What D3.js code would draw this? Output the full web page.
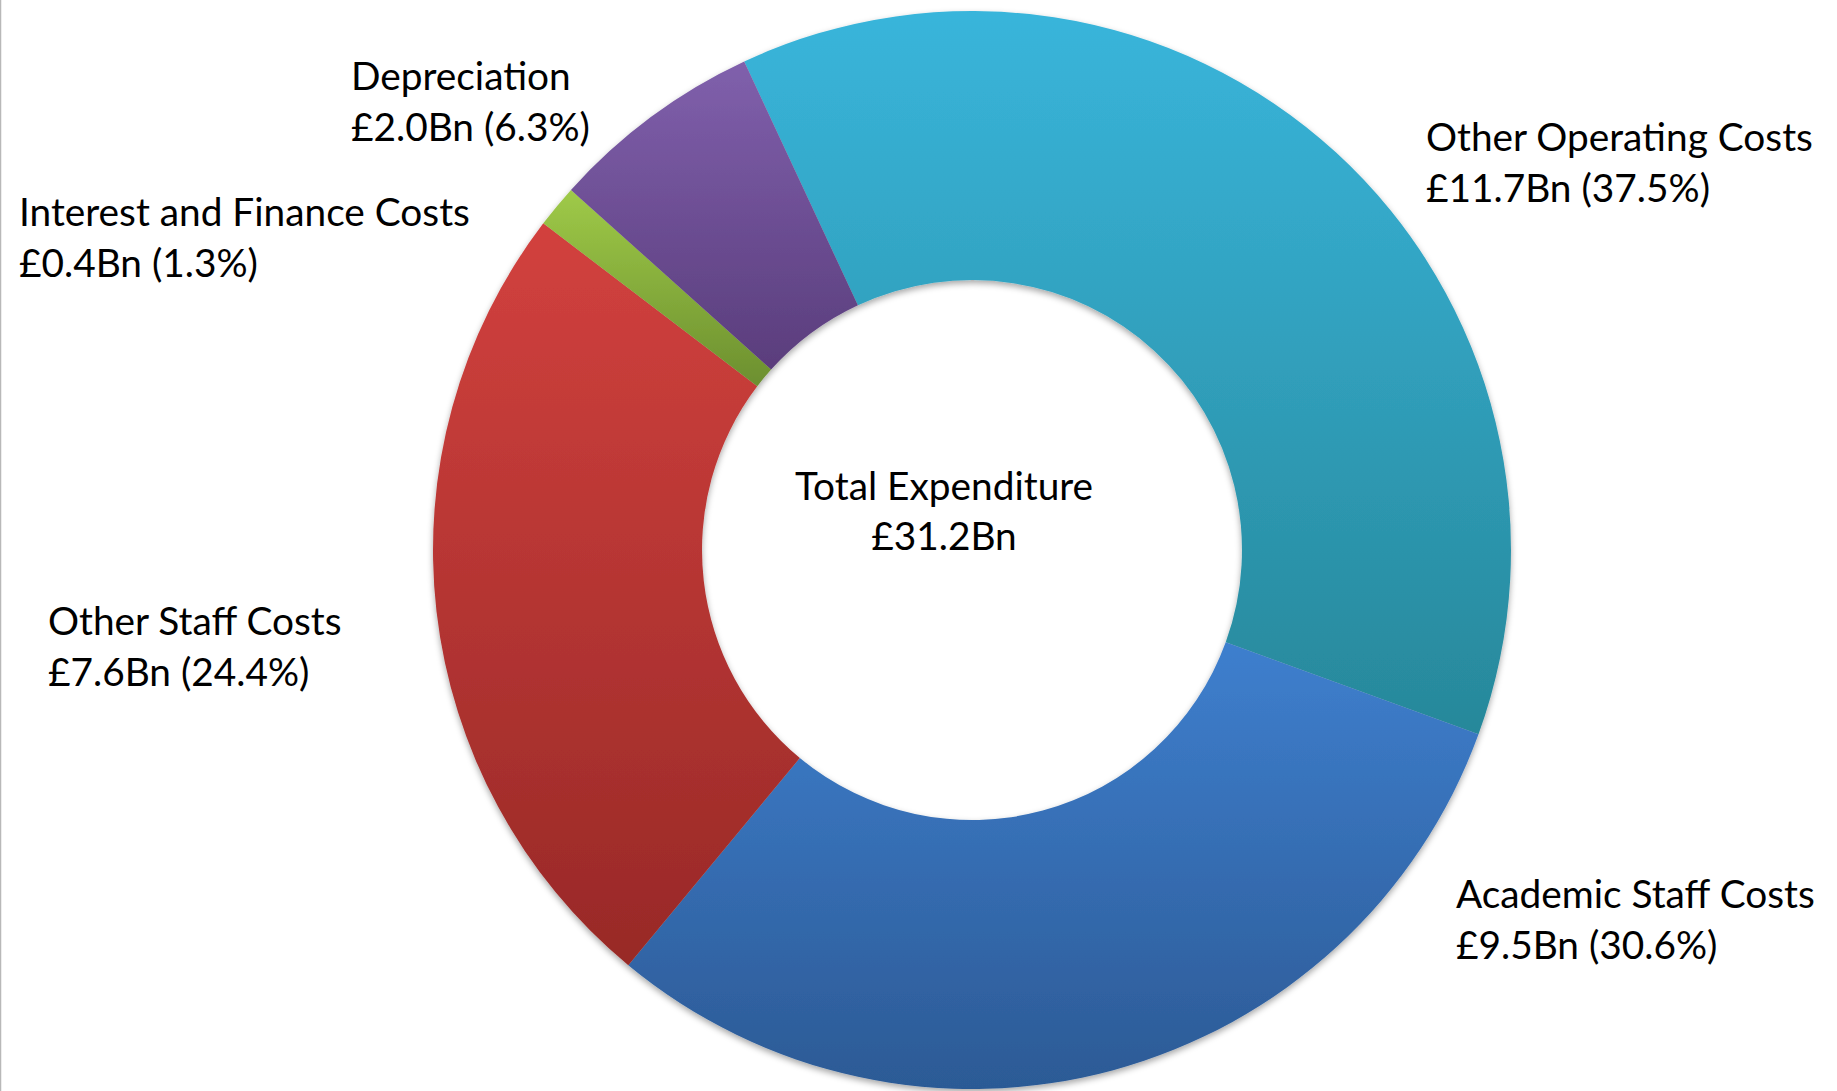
<!DOCTYPE html>
<html>
<head>
<meta charset="utf-8">
<script src="https://cdn.jsdelivr.net/npm/d3@7"></script>
<style>
  html, body { margin: 0; padding: 0; background: #fff; }
  svg { display: block; }
</style>
</head>
<body>
<div id="chart"></div>
<script>
// expenditure breakdown, in pie order (clockwise from the top left)
const categories = ['Other Operating Costs', 'Academic Staff Costs', 'Other Staff Costs',
  'Interest and Finance Costs', 'Depreciation'];
const values = [11.7, 9.5, 7.6, 0.4, 2.0];
const percents = [37.5, 30.6, 24.4, 1.3, 6.3];
const totalLabel = ['Total Expenditure', '£31.2Bn'];

// gradient colours, top -> bottom of each slice
const topColors = ['#39b5db', '#3e7fce', '#d2413e', '#9fca48', '#8060ac'];
const bottomColors = ['#27889a', '#2c5a95', '#982927', '#6c8f2f', '#5a3d7c'];

// label anchor (left edge, first baseline)
const labelPos = [[1426, 151], [1456, 908], [48, 635], [19, 226], [351, 90]];

const W = 1837, H = 1091;
const cx = 972, cy = 550;
const outerR = 539, innerR = 270;
const FONT = 'Lato, "Open Sans", sans-serif';

let svg = d3.select('#chart')
  .append('svg')
  .attr('width', W)
  .attr('height', H);

// fit the font so a label spans the same width as in the picture
let probe = svg.append('text')
  .attr('font-family', FONT)
  .attr('font-size', 100)
  .text('Other Operating Costs');
let fontSize = 100 * 387 / probe.node().getComputedTextLength();
probe.remove();
let lineH = 51;

let defs = svg.append('defs');

let shadow = defs.append('filter')
  .attr('id', 'shadow')
  .attr('x', '-10%').attr('y', '-10%')
  .attr('width', '120%').attr('height', '120%');
shadow.append('feDropShadow')
  .attr('dx', 0)
  .attr('dy', 3)
  .attr('stdDeviation', 3)
  .attr('flood-color', '#000')
  .attr('flood-opacity', 0.35);

categories.forEach(function(c, i) {
  let g = defs.append('linearGradient')
    .attr('id', 'grad' + i)
    .attr('x1', 0).attr('y1', 0)
    .attr('x2', 0).attr('y2', 1);
  g.append('stop').attr('offset', '0%').attr('stop-color', topColors[i]);
  g.append('stop').attr('offset', '100%').attr('stop-color', bottomColors[i]);
});

// left frame line
svg.append('line')
  .attr('x1', 0.5).attr('x2', 0.5)
  .attr('y1', 0).attr('y2', H)
  .attr('stroke', '#b8b8b8')
  .attr('stroke-width', 1.5);

let start = -25 * Math.PI / 180;
let pie = d3.pie()
  .sort(null)
  .value(function(d) { return d; })
  .startAngle(start)
  .endAngle(start + 2 * Math.PI);

let arc = d3.arc()
  .innerRadius(innerR)
  .outerRadius(outerR);

let donut = svg.append('g')
  .attr('transform', 'translate(' + cx + ',' + cy + ')')
  .attr('filter', 'url(#shadow)');

donut.selectAll('path')
  .data(pie(values))
  .enter()
  .append('path')
  .attr('d', arc)
  .attr('fill', function(d, i) { return 'url(#grad' + i + ')'; });

// slice labels
let labels = svg.selectAll('text.label')
  .data(categories)
  .enter()
  .append('text')
  .attr('class', 'label')
  .attr('font-family', FONT)
  .attr('font-size', fontSize)
  .attr('fill', '#000');

labels.append('tspan')
  .attr('x', function(d, i) { return labelPos[i][0]; })
  .attr('y', function(d, i) { return labelPos[i][1]; })
  .text(function(d) { return d; });

labels.append('tspan')
  .attr('x', function(d, i) { return labelPos[i][0]; })
  .attr('y', function(d, i) { return labelPos[i][1] + lineH; })
  .text(function(d, i) {
    return '£' + values[i].toFixed(1) + 'Bn (' + percents[i].toFixed(1) + '%)';
  });

// centre text
svg.append('text')
  .attr('font-family', FONT)
  .attr('font-size', fontSize)
  .attr('text-anchor', 'middle')
  .selectAll('tspan')
  .data(totalLabel)
  .enter()
  .append('tspan')
  .attr('x', 944)
  .attr('y', function(d, i) { return 500 + i * 50; })
  .text(function(d) { return d; });
</script>
</body>
</html>
